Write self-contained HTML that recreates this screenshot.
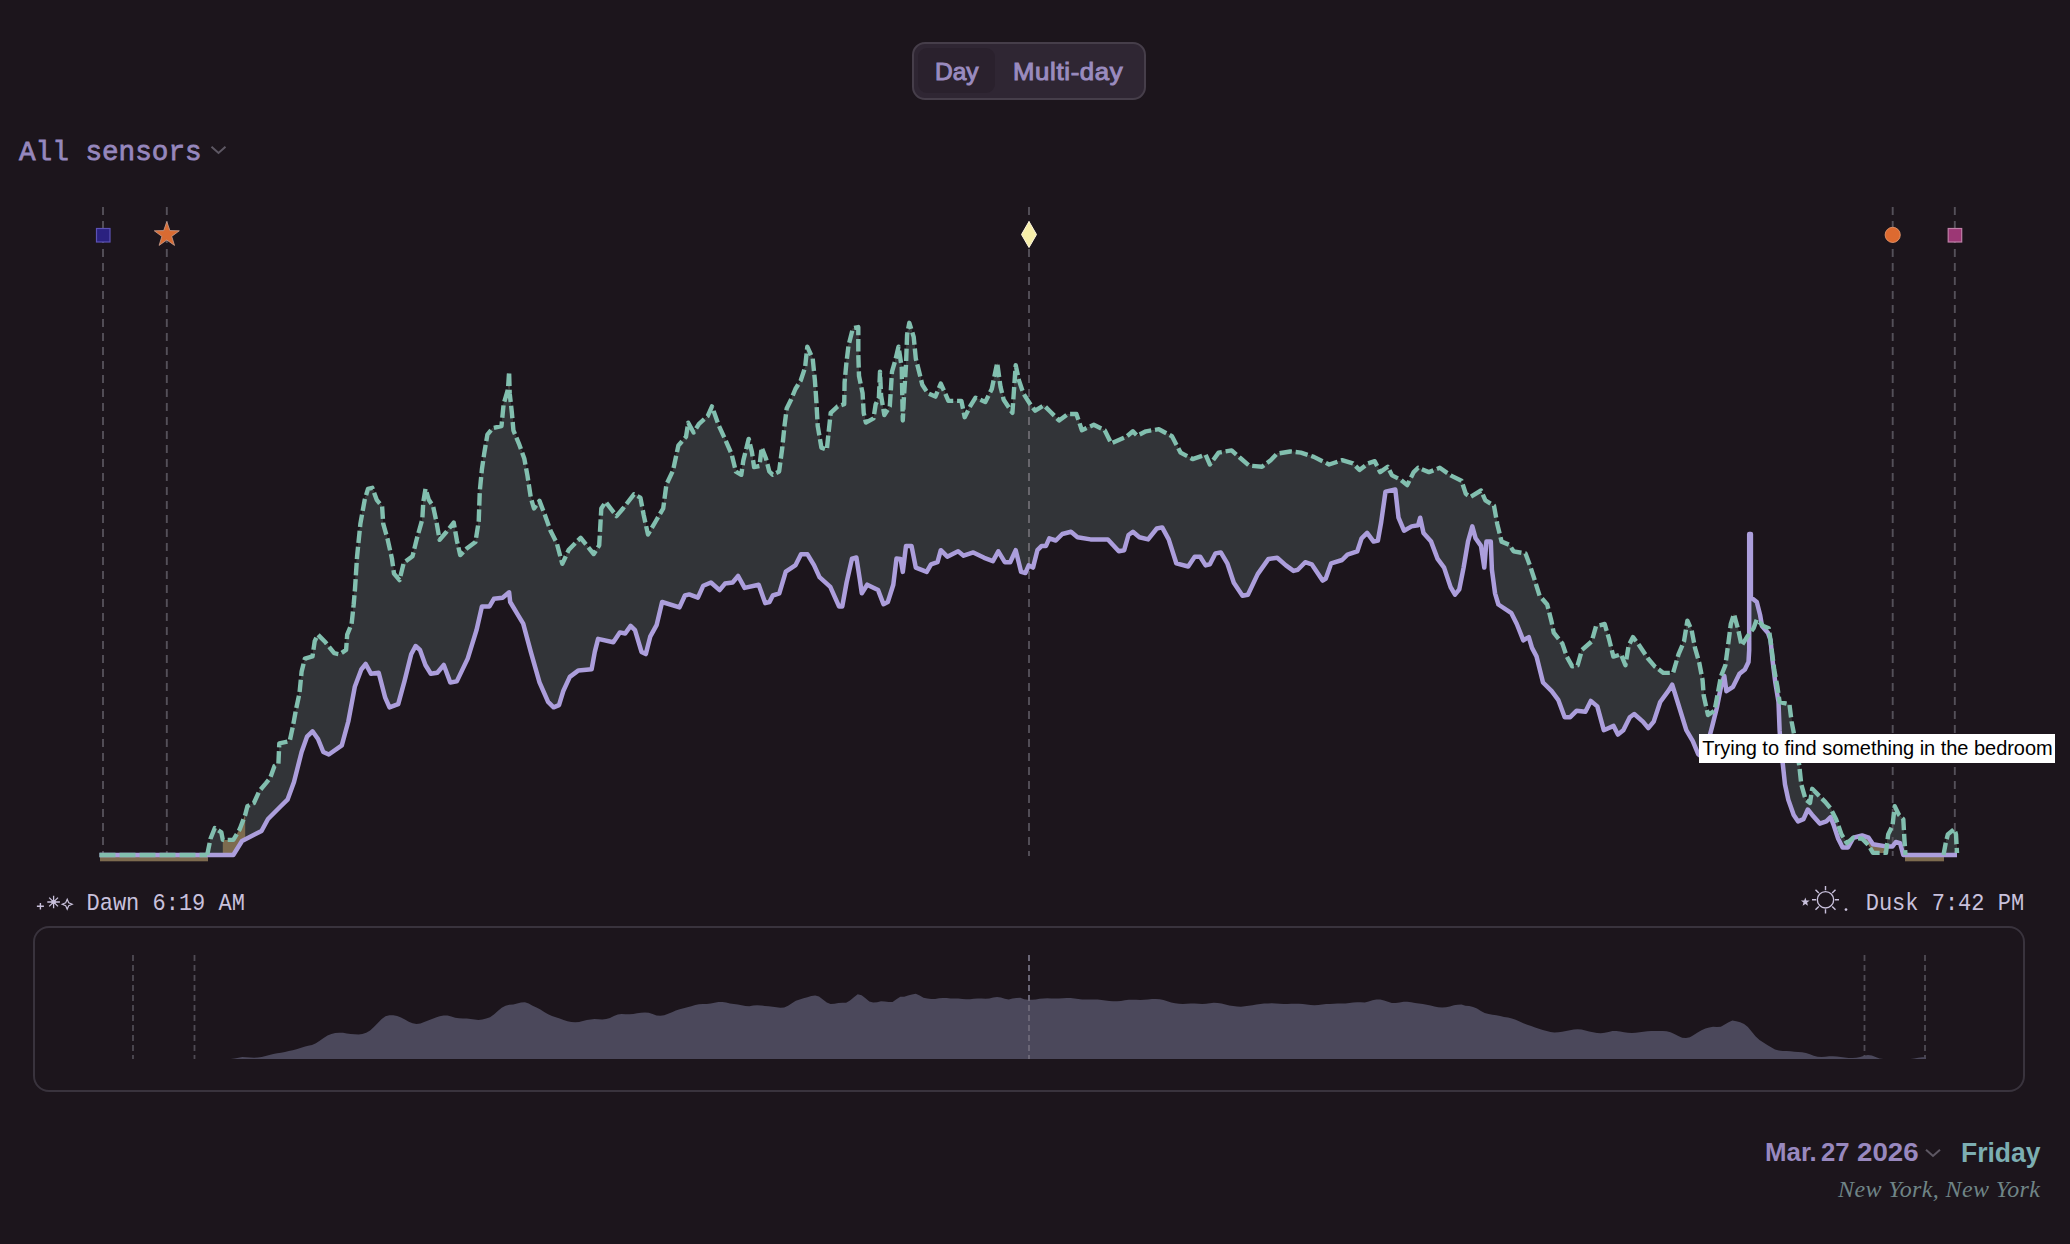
<!DOCTYPE html>
<html><head><meta charset="utf-8"><title>Sensors</title>
<style>
html,body{margin:0;padding:0}
body{width:2070px;height:1244px;background:#1c151c;position:relative;overflow:hidden;font-family:"Liberation Sans",sans-serif}
.abs{position:absolute;white-space:nowrap;line-height:1}
.toggle{left:912px;top:42px;width:230px;height:54px;border:2px solid #463e4a;border-radius:13px;background:#2f2633;box-sizing:content-box}
.day{left:4px;top:4px;width:77px;height:45px;border-radius:9px;background:#2a212d}
.tg{font-weight:normal;font-size:23px;color:#9a8bbf;-webkit-text-stroke:0.95px #9a8bbf}
.mono{font-family:"Liberation Mono",monospace}
.serif{font-family:"Liberation Serif",serif}
</style></head><body>
<div class="abs toggle"><div class="abs day"></div></div>
<div class="abs tg" id="t_day" style="left:934.5px;top:61.3px;transform-origin:0 0;transform:scaleX(1.065)">Day</div>
<div class="abs tg" id="t_multi" style="left:1013.2px;top:61.3px;letter-spacing:0.58px;transform-origin:0 0;transform:scaleX(1.12)">Multi-day</div>
<div class="abs mono" id="t_all" style="left:18.5px;top:138.5px;font-size:28px;font-weight:normal;color:#9687bd;-webkit-text-stroke:0.75px #9687bd;transform-origin:0 21.46px;transform:scale(0.988,1.02)">All sensors</div>
<svg class="abs" style="left:210px;top:145px" width="17" height="10" viewBox="0 0 17 10"><polyline points="1.5,1.8 8.5,8 15.5,1.8" fill="none" stroke="#5d5763" stroke-width="2"/></svg>
<svg width="2070" height="1244" viewBox="0 0 2070 1244" style="position:absolute;left:0;top:0"><defs><clipPath id="bg"><polygon points="99.5,855.0 207.2,855.0 210.5,838.8 214.8,828.0 221.3,832.3 222.8,839.9 233.3,839.9 239.8,829.0 245.2,814.9 247.4,806.2 253.9,803.0 259.3,791.0 265.8,783.4 270.2,778.0 274.5,766.0 278.4,763.9 279.3,743.3 289.7,741.1 293.0,725.9 296.2,708.5 299.5,693.3 301.6,671.6 304.9,658.6 312.5,656.4 314.7,641.2 317.9,634.7 325.5,642.3 334.2,653.2 339.6,654.3 346.1,649.9 347.2,634.7 351.6,623.9 353.7,604.3 355.0,588.8 357.1,556.2 360.4,523.6 364.7,499.8 368.0,488.9 372.3,487.8 376.7,499.8 382.1,506.3 383.2,523.6 387.5,538.8 391.9,558.4 394.0,573.6 399.5,580.1 403.8,562.7 412.5,556.2 416.8,538.8 422.3,519.3 423.3,502.0 425.5,488.9 428.8,499.8 433.1,506.3 436.4,521.5 439.6,539.9 446.1,532.3 453.7,522.6 457.0,541.0 460.2,555.1 466.7,548.6 475.4,542.1 478.7,521.5 479.8,491.1 481.9,469.4 484.1,454.2 487.4,434.7 492.8,428.1 501.5,426.0 503.6,404.3 508.0,389.1 509.1,371.7 509.7,393.4 511.9,412.9 513.4,430.3 518.8,443.3 524.3,458.5 527.5,475.9 530.8,497.6 534.0,508.5 539.5,500.9 544.9,515.0 550.3,530.2 556.8,543.2 562.3,563.8 568.8,549.7 580.7,537.8 593.7,554.0 599.2,545.4 601.3,508.5 605.7,501.9 616.5,516.1 623.0,508.5 633.9,494.3 640.4,497.6 643.7,515.0 648.0,534.5 655.6,521.5 663.2,508.5 666.4,484.6 673.0,470.5 678.4,445.5 686.0,436.8 688.2,422.7 693.6,432.5 699.0,423.8 707.7,416.2 712.0,406.4 718.5,424.9 725.0,439.0 731.6,454.2 735.9,471.6 741.3,474.8 743.3,460.6 748.7,438.9 751.9,451.9 754.1,467.1 759.5,466.0 761.7,447.6 766.0,458.5 769.3,471.5 772.6,474.7 779.1,471.5 782.3,447.6 784.5,425.9 786.7,408.5 791.0,399.8 795.4,389.0 800.8,380.3 805.1,367.3 807.3,346.7 812.7,358.6 814.9,380.3 816.4,402.0 817.7,425.9 821.4,447.6 826.8,449.8 828.6,432.4 830.7,412.9 837.7,406.4 844.2,404.2 844.6,382.5 846.4,362.9 848.5,345.6 852.9,328.2 858.3,327.1 858.3,354.3 859.0,376.0 862.6,393.3 863.7,412.9 865.9,422.6 873.5,418.3 875.7,404.2 878.9,397.7 880.0,371.6 881.1,395.5 884.3,415.0 889.8,406.4 892.0,371.6 895.2,360.8 898.5,346.7 901.7,367.3 902.8,420.5 903.9,397.7 906.0,365.1 907.1,334.7 909.3,322.8 913.7,336.9 915.8,358.6 919.1,371.6 922.3,384.7 927.8,393.3 935.4,396.6 940.8,383.6 945.1,393.3 948.4,400.9 961.4,400.9 964.7,417.2 970.1,406.4 975.5,397.7 985.3,402.0 991.8,389.0 997.2,362.9 1000.5,386.8 1003.7,399.8 1012.4,412.9 1015.7,365.1 1018.9,380.3 1023.3,393.3 1030.9,405.3 1035.2,410.7 1043.9,405.3 1050.4,411.8 1059.1,420.5 1067.8,414.0 1076.4,414.0 1081.9,430.2 1093.8,424.8 1104.7,430.2 1111.2,443.3 1126.4,436.7 1132.9,431.3 1137.2,435.7 1145.9,431.3 1158.9,429.2 1172.0,436.3 1180.6,452.6 1192.6,459.1 1205.6,454.7 1209.9,464.5 1218.6,452.6 1231.6,450.4 1240.3,458.0 1249.0,465.6 1262.0,466.7 1270.7,460.2 1277.2,453.6 1290.2,451.5 1300.9,452.6 1313.9,456.9 1329.1,464.5 1342.1,460.2 1352.9,463.4 1359.5,469.9 1368.1,463.4 1374.7,461.2 1380.1,472.1 1387.7,466.7 1392.0,475.4 1400.7,479.7 1407.2,485.1 1413.7,472.1 1418.1,467.8 1428.9,472.1 1439.8,467.8 1450.6,475.4 1461.5,480.8 1465.8,493.8 1470.2,497.1 1481.0,490.5 1485.4,500.3 1494.0,505.7 1497.3,524.2 1501.6,541.6 1509.2,544.8 1513.6,551.3 1525.5,553.5 1529.9,565.4 1534.2,578.5 1539.6,595.8 1547.2,604.5 1551.6,621.9 1553.7,632.7 1562.4,643.6 1566.8,656.6 1572.2,666.4 1577.6,665.3 1581.9,650.1 1591.7,641.4 1596.0,626.2 1604.7,624.0 1609.1,639.2 1613.4,656.6 1621.0,654.4 1625.4,665.3 1628.6,645.7 1633.0,637.1 1639.5,645.7 1648.2,658.8 1654.7,666.4 1663.4,672.9 1673.1,672.9 1678.5,654.4 1684.0,641.4 1687.4,620.6 1691.7,630.4 1695.0,647.8 1699.3,663.0 1702.6,680.3 1703.7,695.5 1708.0,715.0 1714.5,710.7 1717.8,693.3 1721.0,676.0 1725.4,665.1 1728.6,641.2 1730.8,623.9 1734.0,614.1 1738.4,630.4 1741.6,645.6 1744.0,641.3 1744.5,640.5 1745.0,639.7 1745.5,638.9 1746.0,638.1 1746.5,637.3 1747.0,636.6 1747.5,635.9 1748.0,635.2 1748.5,634.5 1749.0,633.9 1749.5,533.5 1750.0,533.5 1750.5,533.5 1751.0,597.5 1751.5,597.8 1752.0,598.0 1752.5,598.3 1753.0,598.5 1753.5,598.9 1754.0,599.3 1754.5,599.7 1755.0,600.1 1755.5,600.5 1756.0,600.9 1756.5,601.3 1757.0,602.3 1757.5,604.3 1758.0,606.2 1758.5,608.2 1759.0,610.2 1759.5,612.1 1760.0,614.1 1760.5,616.8 1761.0,619.7 1761.5,622.6 1762.0,624.2 1762.5,624.7 1763.0,625.2 1763.5,625.6 1764.0,625.8 1764.5,626.0 1765.0,626.2 1765.5,626.4 1766.0,626.6 1766.5,626.8 1767.0,627.0 1767.5,627.2 1768.0,627.4 1768.5,627.6 1769.0,629.1 1769.5,632.8 1770.0,636.4 1770.5,639.5 1771.0,643.7 1771.5,647.6 1772.0,651.6 1772.5,655.6 1773.0,659.5 1773.5,663.5 1774.0,667.4 1774.5,670.6 1775.0,673.3 1775.5,676.0 1776.0,678.7 1776.5,681.4 1777.0,684.1 1777.5,687.0 1778.0,690.4 1779.6,702.0 1789.4,704.2 1791.6,721.6 1793.7,732.4 1796.5,750.0 1799.2,765.0 1801.3,784.5 1805.7,799.7 1810.0,802.9 1812.2,788.8 1818.7,795.4 1825.2,801.9 1830.6,808.4 1836.1,819.2 1841.5,834.4 1846.9,843.1 1853.4,837.7 1862.1,838.8 1868.6,845.3 1873.0,852.9 1886.0,852.9 1888.2,834.4 1892.5,825.7 1894.7,806.2 1899.0,814.9 1903.3,819.2 1904.4,838.8 1905.5,855.0 1943.5,855.0 1945.7,843.1 1947.8,834.4 1954.3,829.0 1956.0,834.4 1957.0,853.0 1957.0,200.0 99.5,200.0"/></clipPath><clipPath id="btw"><polygon points="99.5,855.0 207.2,855.0 210.5,838.8 214.8,828.0 221.3,832.3 222.8,839.9 233.3,839.9 239.8,829.0 245.2,814.9 247.4,806.2 253.9,803.0 259.3,791.0 265.8,783.4 270.2,778.0 274.5,766.0 278.4,763.9 279.3,743.3 289.7,741.1 293.0,725.9 296.2,708.5 299.5,693.3 301.6,671.6 304.9,658.6 312.5,656.4 314.7,641.2 317.9,634.7 325.5,642.3 334.2,653.2 339.6,654.3 346.1,649.9 347.2,634.7 351.6,623.9 353.7,604.3 355.0,588.8 357.1,556.2 360.4,523.6 364.7,499.8 368.0,488.9 372.3,487.8 376.7,499.8 382.1,506.3 383.2,523.6 387.5,538.8 391.9,558.4 394.0,573.6 399.5,580.1 403.8,562.7 412.5,556.2 416.8,538.8 422.3,519.3 423.3,502.0 425.5,488.9 428.8,499.8 433.1,506.3 436.4,521.5 439.6,539.9 446.1,532.3 453.7,522.6 457.0,541.0 460.2,555.1 466.7,548.6 475.4,542.1 478.7,521.5 479.8,491.1 481.9,469.4 484.1,454.2 487.4,434.7 492.8,428.1 501.5,426.0 503.6,404.3 508.0,389.1 509.1,371.7 509.7,393.4 511.9,412.9 513.4,430.3 518.8,443.3 524.3,458.5 527.5,475.9 530.8,497.6 534.0,508.5 539.5,500.9 544.9,515.0 550.3,530.2 556.8,543.2 562.3,563.8 568.8,549.7 580.7,537.8 593.7,554.0 599.2,545.4 601.3,508.5 605.7,501.9 616.5,516.1 623.0,508.5 633.9,494.3 640.4,497.6 643.7,515.0 648.0,534.5 655.6,521.5 663.2,508.5 666.4,484.6 673.0,470.5 678.4,445.5 686.0,436.8 688.2,422.7 693.6,432.5 699.0,423.8 707.7,416.2 712.0,406.4 718.5,424.9 725.0,439.0 731.6,454.2 735.9,471.6 741.3,474.8 743.3,460.6 748.7,438.9 751.9,451.9 754.1,467.1 759.5,466.0 761.7,447.6 766.0,458.5 769.3,471.5 772.6,474.7 779.1,471.5 782.3,447.6 784.5,425.9 786.7,408.5 791.0,399.8 795.4,389.0 800.8,380.3 805.1,367.3 807.3,346.7 812.7,358.6 814.9,380.3 816.4,402.0 817.7,425.9 821.4,447.6 826.8,449.8 828.6,432.4 830.7,412.9 837.7,406.4 844.2,404.2 844.6,382.5 846.4,362.9 848.5,345.6 852.9,328.2 858.3,327.1 858.3,354.3 859.0,376.0 862.6,393.3 863.7,412.9 865.9,422.6 873.5,418.3 875.7,404.2 878.9,397.7 880.0,371.6 881.1,395.5 884.3,415.0 889.8,406.4 892.0,371.6 895.2,360.8 898.5,346.7 901.7,367.3 902.8,420.5 903.9,397.7 906.0,365.1 907.1,334.7 909.3,322.8 913.7,336.9 915.8,358.6 919.1,371.6 922.3,384.7 927.8,393.3 935.4,396.6 940.8,383.6 945.1,393.3 948.4,400.9 961.4,400.9 964.7,417.2 970.1,406.4 975.5,397.7 985.3,402.0 991.8,389.0 997.2,362.9 1000.5,386.8 1003.7,399.8 1012.4,412.9 1015.7,365.1 1018.9,380.3 1023.3,393.3 1030.9,405.3 1035.2,410.7 1043.9,405.3 1050.4,411.8 1059.1,420.5 1067.8,414.0 1076.4,414.0 1081.9,430.2 1093.8,424.8 1104.7,430.2 1111.2,443.3 1126.4,436.7 1132.9,431.3 1137.2,435.7 1145.9,431.3 1158.9,429.2 1172.0,436.3 1180.6,452.6 1192.6,459.1 1205.6,454.7 1209.9,464.5 1218.6,452.6 1231.6,450.4 1240.3,458.0 1249.0,465.6 1262.0,466.7 1270.7,460.2 1277.2,453.6 1290.2,451.5 1300.9,452.6 1313.9,456.9 1329.1,464.5 1342.1,460.2 1352.9,463.4 1359.5,469.9 1368.1,463.4 1374.7,461.2 1380.1,472.1 1387.7,466.7 1392.0,475.4 1400.7,479.7 1407.2,485.1 1413.7,472.1 1418.1,467.8 1428.9,472.1 1439.8,467.8 1450.6,475.4 1461.5,480.8 1465.8,493.8 1470.2,497.1 1481.0,490.5 1485.4,500.3 1494.0,505.7 1497.3,524.2 1501.6,541.6 1509.2,544.8 1513.6,551.3 1525.5,553.5 1529.9,565.4 1534.2,578.5 1539.6,595.8 1547.2,604.5 1551.6,621.9 1553.7,632.7 1562.4,643.6 1566.8,656.6 1572.2,666.4 1577.6,665.3 1581.9,650.1 1591.7,641.4 1596.0,626.2 1604.7,624.0 1609.1,639.2 1613.4,656.6 1621.0,654.4 1625.4,665.3 1628.6,645.7 1633.0,637.1 1639.5,645.7 1648.2,658.8 1654.7,666.4 1663.4,672.9 1673.1,672.9 1678.5,654.4 1684.0,641.4 1687.4,620.6 1691.7,630.4 1695.0,647.8 1699.3,663.0 1702.6,680.3 1703.7,695.5 1708.0,715.0 1714.5,710.7 1717.8,693.3 1721.0,676.0 1725.4,665.1 1728.6,641.2 1730.8,623.9 1734.0,614.1 1738.4,630.4 1741.6,645.6 1747.1,636.9 1753.6,628.2 1756.8,619.5 1763.3,626.0 1768.8,628.2 1770.9,643.4 1774.2,669.5 1777.4,686.8 1779.6,702.0 1789.4,704.2 1791.6,721.6 1793.7,732.4 1796.5,750.0 1799.2,765.0 1801.3,784.5 1805.7,799.7 1810.0,802.9 1812.2,788.8 1818.7,795.4 1825.2,801.9 1830.6,808.4 1836.1,819.2 1841.5,834.4 1846.9,843.1 1853.4,837.7 1862.1,838.8 1868.6,845.3 1873.0,852.9 1886.0,852.9 1888.2,834.4 1892.5,825.7 1894.7,806.2 1899.0,814.9 1903.3,819.2 1904.4,838.8 1905.5,855.0 1943.5,855.0 1945.7,843.1 1947.8,834.4 1954.3,829.0 1956.0,834.4 1957.0,853.0 1957.0,855.0 1903.3,855.0 1900.1,843.1 1895.8,842.0 1892.5,846.4 1886.0,846.4 1873.0,844.2 1868.6,837.7 1862.1,835.5 1853.4,837.7 1848.0,847.4 1842.6,847.4 1838.2,838.8 1833.9,825.7 1830.6,817.1 1826.3,821.4 1819.8,823.6 1812.2,814.9 1807.8,809.5 1803.5,819.2 1798.1,821.4 1793.7,814.9 1788.3,799.7 1785.0,784.5 1782.9,765.0 1781.0,750.0 1779.6,730.2 1778.5,702.0 1775.3,682.5 1772.5,660.0 1770.5,640.0 1768.0,633.0 1762.0,626.0 1760.1,615.0 1756.8,602.0 1753.0,599.0 1750.9,598.0 1750.9,534.0 1749.2,534.0 1749.2,650.0 1748.5,662.0 1744.9,669.5 1739.5,673.8 1733.0,686.8 1726.4,691.2 1724.3,676.0 1721.0,686.8 1716.7,708.5 1712.3,725.9 1706.0,750.0 1702.0,757.0 1698.2,754.1 1692.8,741.1 1686.3,730.2 1677.6,702.0 1672.2,684.7 1668.9,690.1 1660.2,702.0 1653.7,721.6 1648.3,728.1 1642.9,721.6 1634.2,714.0 1629.8,717.2 1623.3,730.2 1617.9,734.6 1613.6,725.9 1603.8,730.2 1597.3,706.4 1590.8,700.9 1585.4,711.8 1576.7,710.7 1570.2,717.2 1564.7,717.2 1558.2,699.8 1551.7,691.2 1543.0,682.5 1536.5,656.4 1532.0,647.9 1528.8,637.1 1523.3,640.3 1516.8,624.0 1511.4,613.2 1498.4,604.5 1495.1,593.6 1491.9,569.8 1490.8,541.6 1486.4,541.6 1484.3,567.6 1481.0,545.9 1475.6,538.3 1472.3,526.4 1468.0,541.6 1463.6,567.6 1459.3,589.3 1455.0,594.7 1450.6,587.1 1444.1,567.6 1437.6,558.9 1431.1,541.6 1423.5,532.9 1420.2,517.7 1418.1,525.3 1411.6,526.4 1404.0,530.7 1398.5,517.7 1395.3,489.5 1385.5,491.6 1381.2,522.0 1377.9,540.5 1373.6,541.6 1367.1,532.9 1361.6,538.3 1357.3,551.3 1347.5,554.6 1342.1,560.0 1331.2,563.3 1325.8,578.5 1322.6,580.6 1311.7,564.3 1305.2,562.2 1297.8,569.8 1293.5,570.9 1285.9,565.4 1277.2,557.8 1268.5,558.9 1257.7,574.1 1247.9,594.7 1242.5,595.8 1233.8,582.8 1227.3,563.3 1220.8,552.4 1215.4,553.5 1209.9,564.3 1205.6,565.4 1200.2,556.7 1194.7,556.7 1188.2,566.5 1176.3,563.3 1168.7,539.4 1162.2,527.4 1156.8,528.5 1148.1,539.4 1139.4,537.2 1132.9,531.8 1128.5,535.0 1124.2,550.2 1118.8,551.3 1107.9,539.4 1090.5,539.4 1077.5,537.2 1071.0,531.8 1062.3,534.0 1055.8,540.5 1049.3,538.3 1046.0,545.9 1041.7,545.9 1037.4,550.2 1033.0,567.6 1028.7,565.4 1025.4,573.0 1021.1,571.9 1015.7,550.2 1010.2,562.2 1004.8,562.2 998.3,551.3 992.9,561.1 984.2,557.8 973.3,552.4 963.6,555.7 958.1,551.3 947.3,556.7 940.8,550.2 937.5,562.2 931.0,564.3 926.7,571.9 915.8,567.6 911.5,545.9 906.0,545.9 902.8,571.9 900.6,558.9 896.5,558.6 893.3,584.7 887.8,602.0 883.5,604.2 878.1,590.1 867.2,584.7 861.8,593.3 859.6,578.1 856.4,557.5 852.0,558.6 846.6,582.5 842.3,606.4 839.0,606.4 830.3,586.8 819.5,577.1 814.0,565.1 807.5,554.3 801.0,554.3 795.6,565.1 785.8,571.6 779.3,593.3 772.8,595.5 769.5,602.0 765.2,603.1 758.7,584.7 744.6,587.9 738.1,576.0 732.6,582.5 725.0,583.6 719.6,590.1 710.9,582.5 703.3,585.7 697.9,597.7 689.2,594.4 684.9,595.5 679.5,607.4 662.1,602.0 656.7,624.8 650.2,636.7 645.8,654.1 641.5,651.9 635.0,630.2 630.6,625.9 625.2,633.5 619.8,632.4 613.3,642.2 598.1,638.9 594.8,651.9 591.6,669.3 578.5,670.4 569.8,676.9 563.3,691.0 559.0,705.1 553.6,707.3 548.1,701.9 539.5,682.3 530.8,651.9 523.2,623.7 516.7,612.9 510.2,602.0 509.1,592.3 502.6,597.7 493.9,598.8 489.5,606.4 481.9,606.4 476.5,630.2 467.7,658.6 456.8,681.4 450.3,682.5 443.8,665.0 437.3,672.7 430.8,673.8 425.4,665.0 420.0,650.0 415.6,646.0 411.2,654.3 404.7,680.3 398.2,704.2 389.5,707.4 385.2,697.7 378.7,672.7 371.0,673.8 365.7,664.0 361.3,669.5 354.8,686.8 348.3,721.5 341.8,745.4 328.8,754.5 323.3,752.0 318.0,739.0 312.5,731.3 307.0,736.7 301.6,752.0 294.0,782.0 287.5,799.7 281.0,806.0 268.0,819.0 261.5,831.0 242.0,841.0 233.3,855.0 99.5,855.0"/></clipPath></defs><polygon points="99.5,855.0 207.2,855.0 210.5,838.8 214.8,828.0 221.3,832.3 222.8,839.9 233.3,839.9 239.8,829.0 245.2,814.9 247.4,806.2 253.9,803.0 259.3,791.0 265.8,783.4 270.2,778.0 274.5,766.0 278.4,763.9 279.3,743.3 289.7,741.1 293.0,725.9 296.2,708.5 299.5,693.3 301.6,671.6 304.9,658.6 312.5,656.4 314.7,641.2 317.9,634.7 325.5,642.3 334.2,653.2 339.6,654.3 346.1,649.9 347.2,634.7 351.6,623.9 353.7,604.3 355.0,588.8 357.1,556.2 360.4,523.6 364.7,499.8 368.0,488.9 372.3,487.8 376.7,499.8 382.1,506.3 383.2,523.6 387.5,538.8 391.9,558.4 394.0,573.6 399.5,580.1 403.8,562.7 412.5,556.2 416.8,538.8 422.3,519.3 423.3,502.0 425.5,488.9 428.8,499.8 433.1,506.3 436.4,521.5 439.6,539.9 446.1,532.3 453.7,522.6 457.0,541.0 460.2,555.1 466.7,548.6 475.4,542.1 478.7,521.5 479.8,491.1 481.9,469.4 484.1,454.2 487.4,434.7 492.8,428.1 501.5,426.0 503.6,404.3 508.0,389.1 509.1,371.7 509.7,393.4 511.9,412.9 513.4,430.3 518.8,443.3 524.3,458.5 527.5,475.9 530.8,497.6 534.0,508.5 539.5,500.9 544.9,515.0 550.3,530.2 556.8,543.2 562.3,563.8 568.8,549.7 580.7,537.8 593.7,554.0 599.2,545.4 601.3,508.5 605.7,501.9 616.5,516.1 623.0,508.5 633.9,494.3 640.4,497.6 643.7,515.0 648.0,534.5 655.6,521.5 663.2,508.5 666.4,484.6 673.0,470.5 678.4,445.5 686.0,436.8 688.2,422.7 693.6,432.5 699.0,423.8 707.7,416.2 712.0,406.4 718.5,424.9 725.0,439.0 731.6,454.2 735.9,471.6 741.3,474.8 743.3,460.6 748.7,438.9 751.9,451.9 754.1,467.1 759.5,466.0 761.7,447.6 766.0,458.5 769.3,471.5 772.6,474.7 779.1,471.5 782.3,447.6 784.5,425.9 786.7,408.5 791.0,399.8 795.4,389.0 800.8,380.3 805.1,367.3 807.3,346.7 812.7,358.6 814.9,380.3 816.4,402.0 817.7,425.9 821.4,447.6 826.8,449.8 828.6,432.4 830.7,412.9 837.7,406.4 844.2,404.2 844.6,382.5 846.4,362.9 848.5,345.6 852.9,328.2 858.3,327.1 858.3,354.3 859.0,376.0 862.6,393.3 863.7,412.9 865.9,422.6 873.5,418.3 875.7,404.2 878.9,397.7 880.0,371.6 881.1,395.5 884.3,415.0 889.8,406.4 892.0,371.6 895.2,360.8 898.5,346.7 901.7,367.3 902.8,420.5 903.9,397.7 906.0,365.1 907.1,334.7 909.3,322.8 913.7,336.9 915.8,358.6 919.1,371.6 922.3,384.7 927.8,393.3 935.4,396.6 940.8,383.6 945.1,393.3 948.4,400.9 961.4,400.9 964.7,417.2 970.1,406.4 975.5,397.7 985.3,402.0 991.8,389.0 997.2,362.9 1000.5,386.8 1003.7,399.8 1012.4,412.9 1015.7,365.1 1018.9,380.3 1023.3,393.3 1030.9,405.3 1035.2,410.7 1043.9,405.3 1050.4,411.8 1059.1,420.5 1067.8,414.0 1076.4,414.0 1081.9,430.2 1093.8,424.8 1104.7,430.2 1111.2,443.3 1126.4,436.7 1132.9,431.3 1137.2,435.7 1145.9,431.3 1158.9,429.2 1172.0,436.3 1180.6,452.6 1192.6,459.1 1205.6,454.7 1209.9,464.5 1218.6,452.6 1231.6,450.4 1240.3,458.0 1249.0,465.6 1262.0,466.7 1270.7,460.2 1277.2,453.6 1290.2,451.5 1300.9,452.6 1313.9,456.9 1329.1,464.5 1342.1,460.2 1352.9,463.4 1359.5,469.9 1368.1,463.4 1374.7,461.2 1380.1,472.1 1387.7,466.7 1392.0,475.4 1400.7,479.7 1407.2,485.1 1413.7,472.1 1418.1,467.8 1428.9,472.1 1439.8,467.8 1450.6,475.4 1461.5,480.8 1465.8,493.8 1470.2,497.1 1481.0,490.5 1485.4,500.3 1494.0,505.7 1497.3,524.2 1501.6,541.6 1509.2,544.8 1513.6,551.3 1525.5,553.5 1529.9,565.4 1534.2,578.5 1539.6,595.8 1547.2,604.5 1551.6,621.9 1553.7,632.7 1562.4,643.6 1566.8,656.6 1572.2,666.4 1577.6,665.3 1581.9,650.1 1591.7,641.4 1596.0,626.2 1604.7,624.0 1609.1,639.2 1613.4,656.6 1621.0,654.4 1625.4,665.3 1628.6,645.7 1633.0,637.1 1639.5,645.7 1648.2,658.8 1654.7,666.4 1663.4,672.9 1673.1,672.9 1678.5,654.4 1684.0,641.4 1687.4,620.6 1691.7,630.4 1695.0,647.8 1699.3,663.0 1702.6,680.3 1703.7,695.5 1708.0,715.0 1714.5,710.7 1717.8,693.3 1721.0,676.0 1725.4,665.1 1728.6,641.2 1730.8,623.9 1734.0,614.1 1738.4,630.4 1741.6,645.6 1747.1,636.9 1753.6,628.2 1756.8,619.5 1763.3,626.0 1768.8,628.2 1770.9,643.4 1774.2,669.5 1777.4,686.8 1779.6,702.0 1789.4,704.2 1791.6,721.6 1793.7,732.4 1796.5,750.0 1799.2,765.0 1801.3,784.5 1805.7,799.7 1810.0,802.9 1812.2,788.8 1818.7,795.4 1825.2,801.9 1830.6,808.4 1836.1,819.2 1841.5,834.4 1846.9,843.1 1853.4,837.7 1862.1,838.8 1868.6,845.3 1873.0,852.9 1886.0,852.9 1888.2,834.4 1892.5,825.7 1894.7,806.2 1899.0,814.9 1903.3,819.2 1904.4,838.8 1905.5,855.0 1943.5,855.0 1945.7,843.1 1947.8,834.4 1954.3,829.0 1956.0,834.4 1957.0,853.0 1957.0,855.0 1903.3,855.0 1900.1,843.1 1895.8,842.0 1892.5,846.4 1886.0,846.4 1873.0,844.2 1868.6,837.7 1862.1,835.5 1853.4,837.7 1848.0,847.4 1842.6,847.4 1838.2,838.8 1833.9,825.7 1830.6,817.1 1826.3,821.4 1819.8,823.6 1812.2,814.9 1807.8,809.5 1803.5,819.2 1798.1,821.4 1793.7,814.9 1788.3,799.7 1785.0,784.5 1782.9,765.0 1781.0,750.0 1779.6,730.2 1778.5,702.0 1775.3,682.5 1772.5,660.0 1770.5,640.0 1768.0,633.0 1762.0,626.0 1760.1,615.0 1756.8,602.0 1753.0,599.0 1750.9,598.0 1750.9,534.0 1749.2,534.0 1749.2,650.0 1748.5,662.0 1744.9,669.5 1739.5,673.8 1733.0,686.8 1726.4,691.2 1724.3,676.0 1721.0,686.8 1716.7,708.5 1712.3,725.9 1706.0,750.0 1702.0,757.0 1698.2,754.1 1692.8,741.1 1686.3,730.2 1677.6,702.0 1672.2,684.7 1668.9,690.1 1660.2,702.0 1653.7,721.6 1648.3,728.1 1642.9,721.6 1634.2,714.0 1629.8,717.2 1623.3,730.2 1617.9,734.6 1613.6,725.9 1603.8,730.2 1597.3,706.4 1590.8,700.9 1585.4,711.8 1576.7,710.7 1570.2,717.2 1564.7,717.2 1558.2,699.8 1551.7,691.2 1543.0,682.5 1536.5,656.4 1532.0,647.9 1528.8,637.1 1523.3,640.3 1516.8,624.0 1511.4,613.2 1498.4,604.5 1495.1,593.6 1491.9,569.8 1490.8,541.6 1486.4,541.6 1484.3,567.6 1481.0,545.9 1475.6,538.3 1472.3,526.4 1468.0,541.6 1463.6,567.6 1459.3,589.3 1455.0,594.7 1450.6,587.1 1444.1,567.6 1437.6,558.9 1431.1,541.6 1423.5,532.9 1420.2,517.7 1418.1,525.3 1411.6,526.4 1404.0,530.7 1398.5,517.7 1395.3,489.5 1385.5,491.6 1381.2,522.0 1377.9,540.5 1373.6,541.6 1367.1,532.9 1361.6,538.3 1357.3,551.3 1347.5,554.6 1342.1,560.0 1331.2,563.3 1325.8,578.5 1322.6,580.6 1311.7,564.3 1305.2,562.2 1297.8,569.8 1293.5,570.9 1285.9,565.4 1277.2,557.8 1268.5,558.9 1257.7,574.1 1247.9,594.7 1242.5,595.8 1233.8,582.8 1227.3,563.3 1220.8,552.4 1215.4,553.5 1209.9,564.3 1205.6,565.4 1200.2,556.7 1194.7,556.7 1188.2,566.5 1176.3,563.3 1168.7,539.4 1162.2,527.4 1156.8,528.5 1148.1,539.4 1139.4,537.2 1132.9,531.8 1128.5,535.0 1124.2,550.2 1118.8,551.3 1107.9,539.4 1090.5,539.4 1077.5,537.2 1071.0,531.8 1062.3,534.0 1055.8,540.5 1049.3,538.3 1046.0,545.9 1041.7,545.9 1037.4,550.2 1033.0,567.6 1028.7,565.4 1025.4,573.0 1021.1,571.9 1015.7,550.2 1010.2,562.2 1004.8,562.2 998.3,551.3 992.9,561.1 984.2,557.8 973.3,552.4 963.6,555.7 958.1,551.3 947.3,556.7 940.8,550.2 937.5,562.2 931.0,564.3 926.7,571.9 915.8,567.6 911.5,545.9 906.0,545.9 902.8,571.9 900.6,558.9 896.5,558.6 893.3,584.7 887.8,602.0 883.5,604.2 878.1,590.1 867.2,584.7 861.8,593.3 859.6,578.1 856.4,557.5 852.0,558.6 846.6,582.5 842.3,606.4 839.0,606.4 830.3,586.8 819.5,577.1 814.0,565.1 807.5,554.3 801.0,554.3 795.6,565.1 785.8,571.6 779.3,593.3 772.8,595.5 769.5,602.0 765.2,603.1 758.7,584.7 744.6,587.9 738.1,576.0 732.6,582.5 725.0,583.6 719.6,590.1 710.9,582.5 703.3,585.7 697.9,597.7 689.2,594.4 684.9,595.5 679.5,607.4 662.1,602.0 656.7,624.8 650.2,636.7 645.8,654.1 641.5,651.9 635.0,630.2 630.6,625.9 625.2,633.5 619.8,632.4 613.3,642.2 598.1,638.9 594.8,651.9 591.6,669.3 578.5,670.4 569.8,676.9 563.3,691.0 559.0,705.1 553.6,707.3 548.1,701.9 539.5,682.3 530.8,651.9 523.2,623.7 516.7,612.9 510.2,602.0 509.1,592.3 502.6,597.7 493.9,598.8 489.5,606.4 481.9,606.4 476.5,630.2 467.7,658.6 456.8,681.4 450.3,682.5 443.8,665.0 437.3,672.7 430.8,673.8 425.4,665.0 420.0,650.0 415.6,646.0 411.2,654.3 404.7,680.3 398.2,704.2 389.5,707.4 385.2,697.7 378.7,672.7 371.0,673.8 365.7,664.0 361.3,669.5 354.8,686.8 348.3,721.5 341.8,745.4 328.8,754.5 323.3,752.0 318.0,739.0 312.5,731.3 307.0,736.7 301.6,752.0 294.0,782.0 287.5,799.7 281.0,806.0 268.0,819.0 261.5,831.0 242.0,841.0 233.3,855.0 99.5,855.0" fill="#323438"/><polygon points="99.5,855.0 207.2,855.0 210.5,838.8 214.8,828.0 221.3,832.3 222.8,839.9 233.3,839.9 239.8,829.0 245.2,814.9 247.4,806.2 253.9,803.0 259.3,791.0 265.8,783.4 270.2,778.0 274.5,766.0 278.4,763.9 279.3,743.3 289.7,741.1 293.0,725.9 296.2,708.5 299.5,693.3 301.6,671.6 304.9,658.6 312.5,656.4 314.7,641.2 317.9,634.7 325.5,642.3 334.2,653.2 339.6,654.3 346.1,649.9 347.2,634.7 351.6,623.9 353.7,604.3 355.0,588.8 357.1,556.2 360.4,523.6 364.7,499.8 368.0,488.9 372.3,487.8 376.7,499.8 382.1,506.3 383.2,523.6 387.5,538.8 391.9,558.4 394.0,573.6 399.5,580.1 403.8,562.7 412.5,556.2 416.8,538.8 422.3,519.3 423.3,502.0 425.5,488.9 428.8,499.8 433.1,506.3 436.4,521.5 439.6,539.9 446.1,532.3 453.7,522.6 457.0,541.0 460.2,555.1 466.7,548.6 475.4,542.1 478.7,521.5 479.8,491.1 481.9,469.4 484.1,454.2 487.4,434.7 492.8,428.1 501.5,426.0 503.6,404.3 508.0,389.1 509.1,371.7 509.7,393.4 511.9,412.9 513.4,430.3 518.8,443.3 524.3,458.5 527.5,475.9 530.8,497.6 534.0,508.5 539.5,500.9 544.9,515.0 550.3,530.2 556.8,543.2 562.3,563.8 568.8,549.7 580.7,537.8 593.7,554.0 599.2,545.4 601.3,508.5 605.7,501.9 616.5,516.1 623.0,508.5 633.9,494.3 640.4,497.6 643.7,515.0 648.0,534.5 655.6,521.5 663.2,508.5 666.4,484.6 673.0,470.5 678.4,445.5 686.0,436.8 688.2,422.7 693.6,432.5 699.0,423.8 707.7,416.2 712.0,406.4 718.5,424.9 725.0,439.0 731.6,454.2 735.9,471.6 741.3,474.8 743.3,460.6 748.7,438.9 751.9,451.9 754.1,467.1 759.5,466.0 761.7,447.6 766.0,458.5 769.3,471.5 772.6,474.7 779.1,471.5 782.3,447.6 784.5,425.9 786.7,408.5 791.0,399.8 795.4,389.0 800.8,380.3 805.1,367.3 807.3,346.7 812.7,358.6 814.9,380.3 816.4,402.0 817.7,425.9 821.4,447.6 826.8,449.8 828.6,432.4 830.7,412.9 837.7,406.4 844.2,404.2 844.6,382.5 846.4,362.9 848.5,345.6 852.9,328.2 858.3,327.1 858.3,354.3 859.0,376.0 862.6,393.3 863.7,412.9 865.9,422.6 873.5,418.3 875.7,404.2 878.9,397.7 880.0,371.6 881.1,395.5 884.3,415.0 889.8,406.4 892.0,371.6 895.2,360.8 898.5,346.7 901.7,367.3 902.8,420.5 903.9,397.7 906.0,365.1 907.1,334.7 909.3,322.8 913.7,336.9 915.8,358.6 919.1,371.6 922.3,384.7 927.8,393.3 935.4,396.6 940.8,383.6 945.1,393.3 948.4,400.9 961.4,400.9 964.7,417.2 970.1,406.4 975.5,397.7 985.3,402.0 991.8,389.0 997.2,362.9 1000.5,386.8 1003.7,399.8 1012.4,412.9 1015.7,365.1 1018.9,380.3 1023.3,393.3 1030.9,405.3 1035.2,410.7 1043.9,405.3 1050.4,411.8 1059.1,420.5 1067.8,414.0 1076.4,414.0 1081.9,430.2 1093.8,424.8 1104.7,430.2 1111.2,443.3 1126.4,436.7 1132.9,431.3 1137.2,435.7 1145.9,431.3 1158.9,429.2 1172.0,436.3 1180.6,452.6 1192.6,459.1 1205.6,454.7 1209.9,464.5 1218.6,452.6 1231.6,450.4 1240.3,458.0 1249.0,465.6 1262.0,466.7 1270.7,460.2 1277.2,453.6 1290.2,451.5 1300.9,452.6 1313.9,456.9 1329.1,464.5 1342.1,460.2 1352.9,463.4 1359.5,469.9 1368.1,463.4 1374.7,461.2 1380.1,472.1 1387.7,466.7 1392.0,475.4 1400.7,479.7 1407.2,485.1 1413.7,472.1 1418.1,467.8 1428.9,472.1 1439.8,467.8 1450.6,475.4 1461.5,480.8 1465.8,493.8 1470.2,497.1 1481.0,490.5 1485.4,500.3 1494.0,505.7 1497.3,524.2 1501.6,541.6 1509.2,544.8 1513.6,551.3 1525.5,553.5 1529.9,565.4 1534.2,578.5 1539.6,595.8 1547.2,604.5 1551.6,621.9 1553.7,632.7 1562.4,643.6 1566.8,656.6 1572.2,666.4 1577.6,665.3 1581.9,650.1 1591.7,641.4 1596.0,626.2 1604.7,624.0 1609.1,639.2 1613.4,656.6 1621.0,654.4 1625.4,665.3 1628.6,645.7 1633.0,637.1 1639.5,645.7 1648.2,658.8 1654.7,666.4 1663.4,672.9 1673.1,672.9 1678.5,654.4 1684.0,641.4 1687.4,620.6 1691.7,630.4 1695.0,647.8 1699.3,663.0 1702.6,680.3 1703.7,695.5 1708.0,715.0 1714.5,710.7 1717.8,693.3 1721.0,676.0 1725.4,665.1 1728.6,641.2 1730.8,623.9 1734.0,614.1 1738.4,630.4 1741.6,645.6 1747.1,636.9 1753.6,628.2 1756.8,619.5 1763.3,626.0 1768.8,628.2 1770.9,643.4 1774.2,669.5 1777.4,686.8 1779.6,702.0 1789.4,704.2 1791.6,721.6 1793.7,732.4 1796.5,750.0 1799.2,765.0 1801.3,784.5 1805.7,799.7 1810.0,802.9 1812.2,788.8 1818.7,795.4 1825.2,801.9 1830.6,808.4 1836.1,819.2 1841.5,834.4 1846.9,843.1 1853.4,837.7 1862.1,838.8 1868.6,845.3 1873.0,852.9 1886.0,852.9 1888.2,834.4 1892.5,825.7 1894.7,806.2 1899.0,814.9 1903.3,819.2 1904.4,838.8 1905.5,855.0 1943.5,855.0 1945.7,843.1 1947.8,834.4 1954.3,829.0 1956.0,834.4 1957.0,853.0 1957.0,855.0 1903.3,855.0 1900.1,843.1 1895.8,842.0 1892.5,846.4 1886.0,846.4 1873.0,844.2 1868.6,837.7 1862.1,835.5 1853.4,837.7 1848.0,847.4 1842.6,847.4 1838.2,838.8 1833.9,825.7 1830.6,817.1 1826.3,821.4 1819.8,823.6 1812.2,814.9 1807.8,809.5 1803.5,819.2 1798.1,821.4 1793.7,814.9 1788.3,799.7 1785.0,784.5 1782.9,765.0 1781.0,750.0 1779.6,730.2 1778.5,702.0 1775.3,682.5 1772.5,660.0 1770.5,640.0 1768.0,633.0 1762.0,626.0 1760.1,615.0 1756.8,602.0 1753.0,599.0 1750.9,598.0 1750.9,534.0 1749.2,534.0 1749.2,650.0 1748.5,662.0 1744.9,669.5 1739.5,673.8 1733.0,686.8 1726.4,691.2 1724.3,676.0 1721.0,686.8 1716.7,708.5 1712.3,725.9 1706.0,750.0 1702.0,757.0 1698.2,754.1 1692.8,741.1 1686.3,730.2 1677.6,702.0 1672.2,684.7 1668.9,690.1 1660.2,702.0 1653.7,721.6 1648.3,728.1 1642.9,721.6 1634.2,714.0 1629.8,717.2 1623.3,730.2 1617.9,734.6 1613.6,725.9 1603.8,730.2 1597.3,706.4 1590.8,700.9 1585.4,711.8 1576.7,710.7 1570.2,717.2 1564.7,717.2 1558.2,699.8 1551.7,691.2 1543.0,682.5 1536.5,656.4 1532.0,647.9 1528.8,637.1 1523.3,640.3 1516.8,624.0 1511.4,613.2 1498.4,604.5 1495.1,593.6 1491.9,569.8 1490.8,541.6 1486.4,541.6 1484.3,567.6 1481.0,545.9 1475.6,538.3 1472.3,526.4 1468.0,541.6 1463.6,567.6 1459.3,589.3 1455.0,594.7 1450.6,587.1 1444.1,567.6 1437.6,558.9 1431.1,541.6 1423.5,532.9 1420.2,517.7 1418.1,525.3 1411.6,526.4 1404.0,530.7 1398.5,517.7 1395.3,489.5 1385.5,491.6 1381.2,522.0 1377.9,540.5 1373.6,541.6 1367.1,532.9 1361.6,538.3 1357.3,551.3 1347.5,554.6 1342.1,560.0 1331.2,563.3 1325.8,578.5 1322.6,580.6 1311.7,564.3 1305.2,562.2 1297.8,569.8 1293.5,570.9 1285.9,565.4 1277.2,557.8 1268.5,558.9 1257.7,574.1 1247.9,594.7 1242.5,595.8 1233.8,582.8 1227.3,563.3 1220.8,552.4 1215.4,553.5 1209.9,564.3 1205.6,565.4 1200.2,556.7 1194.7,556.7 1188.2,566.5 1176.3,563.3 1168.7,539.4 1162.2,527.4 1156.8,528.5 1148.1,539.4 1139.4,537.2 1132.9,531.8 1128.5,535.0 1124.2,550.2 1118.8,551.3 1107.9,539.4 1090.5,539.4 1077.5,537.2 1071.0,531.8 1062.3,534.0 1055.8,540.5 1049.3,538.3 1046.0,545.9 1041.7,545.9 1037.4,550.2 1033.0,567.6 1028.7,565.4 1025.4,573.0 1021.1,571.9 1015.7,550.2 1010.2,562.2 1004.8,562.2 998.3,551.3 992.9,561.1 984.2,557.8 973.3,552.4 963.6,555.7 958.1,551.3 947.3,556.7 940.8,550.2 937.5,562.2 931.0,564.3 926.7,571.9 915.8,567.6 911.5,545.9 906.0,545.9 902.8,571.9 900.6,558.9 896.5,558.6 893.3,584.7 887.8,602.0 883.5,604.2 878.1,590.1 867.2,584.7 861.8,593.3 859.6,578.1 856.4,557.5 852.0,558.6 846.6,582.5 842.3,606.4 839.0,606.4 830.3,586.8 819.5,577.1 814.0,565.1 807.5,554.3 801.0,554.3 795.6,565.1 785.8,571.6 779.3,593.3 772.8,595.5 769.5,602.0 765.2,603.1 758.7,584.7 744.6,587.9 738.1,576.0 732.6,582.5 725.0,583.6 719.6,590.1 710.9,582.5 703.3,585.7 697.9,597.7 689.2,594.4 684.9,595.5 679.5,607.4 662.1,602.0 656.7,624.8 650.2,636.7 645.8,654.1 641.5,651.9 635.0,630.2 630.6,625.9 625.2,633.5 619.8,632.4 613.3,642.2 598.1,638.9 594.8,651.9 591.6,669.3 578.5,670.4 569.8,676.9 563.3,691.0 559.0,705.1 553.6,707.3 548.1,701.9 539.5,682.3 530.8,651.9 523.2,623.7 516.7,612.9 510.2,602.0 509.1,592.3 502.6,597.7 493.9,598.8 489.5,606.4 481.9,606.4 476.5,630.2 467.7,658.6 456.8,681.4 450.3,682.5 443.8,665.0 437.3,672.7 430.8,673.8 425.4,665.0 420.0,650.0 415.6,646.0 411.2,654.3 404.7,680.3 398.2,704.2 389.5,707.4 385.2,697.7 378.7,672.7 371.0,673.8 365.7,664.0 361.3,669.5 354.8,686.8 348.3,721.5 341.8,745.4 328.8,754.5 323.3,752.0 318.0,739.0 312.5,731.3 307.0,736.7 301.6,752.0 294.0,782.0 287.5,799.7 281.0,806.0 268.0,819.0 261.5,831.0 242.0,841.0 233.3,855.0 99.5,855.0" fill="#7d6b4f" clip-path="url(#bg)"/><polygon points="222.8,839.9 226.0,839.9 230.0,839.9 233.3,839.9 236.0,835.4 239.8,829.0 243.0,820.6 245.2,814.9 245.2,839.4 242.0,841.0 238.0,847.4 233.3,855.0 228.0,855.0 222.8,855.0" fill="#7d6b4f"/><rect x="100" y="856" width="108" height="5.3" fill="#7d6b4f"/><rect x="1905" y="856" width="39" height="5.3" fill="#7d6b4f"/><line x1="103" y1="207" x2="103" y2="856" stroke="#545059" stroke-width="1.9" stroke-dasharray="8 6"/><line x1="166.8" y1="207" x2="166.8" y2="856" stroke="#545059" stroke-width="1.9" stroke-dasharray="8 6"/><line x1="1029" y1="207" x2="1029" y2="856" stroke="#545059" stroke-width="1.9" stroke-dasharray="8 6"/><line x1="1892.7" y1="207" x2="1892.7" y2="856" stroke="#545059" stroke-width="1.9" stroke-dasharray="8 6"/><line x1="1954.8" y1="207" x2="1954.8" y2="856" stroke="#545059" stroke-width="1.9" stroke-dasharray="8 6"/><line x1="1029" y1="207" x2="1029" y2="856" stroke="#69686e" stroke-width="1.9" stroke-dasharray="8 6" clip-path="url(#btw)"/><polyline points="99.5,855.0 233.3,855.0 242.0,841.0 261.5,831.0 268.0,819.0 281.0,806.0 287.5,799.7 294.0,782.0 301.6,752.0 307.0,736.7 312.5,731.3 318.0,739.0 323.3,752.0 328.8,754.5 341.8,745.4 348.3,721.5 354.8,686.8 361.3,669.5 365.7,664.0 371.0,673.8 378.7,672.7 385.2,697.7 389.5,707.4 398.2,704.2 404.7,680.3 411.2,654.3 415.6,646.0 420.0,650.0 425.4,665.0 430.8,673.8 437.3,672.7 443.8,665.0 450.3,682.5 456.8,681.4 467.7,658.6 476.5,630.2 481.9,606.4 489.5,606.4 493.9,598.8 502.6,597.7 509.1,592.3 510.2,602.0 516.7,612.9 523.2,623.7 530.8,651.9 539.5,682.3 548.1,701.9 553.6,707.3 559.0,705.1 563.3,691.0 569.8,676.9 578.5,670.4 591.6,669.3 594.8,651.9 598.1,638.9 613.3,642.2 619.8,632.4 625.2,633.5 630.6,625.9 635.0,630.2 641.5,651.9 645.8,654.1 650.2,636.7 656.7,624.8 662.1,602.0 679.5,607.4 684.9,595.5 689.2,594.4 697.9,597.7 703.3,585.7 710.9,582.5 719.6,590.1 725.0,583.6 732.6,582.5 738.1,576.0 744.6,587.9 758.7,584.7 765.2,603.1 769.5,602.0 772.8,595.5 779.3,593.3 785.8,571.6 795.6,565.1 801.0,554.3 807.5,554.3 814.0,565.1 819.5,577.1 830.3,586.8 839.0,606.4 842.3,606.4 846.6,582.5 852.0,558.6 856.4,557.5 859.6,578.1 861.8,593.3 867.2,584.7 878.1,590.1 883.5,604.2 887.8,602.0 893.3,584.7 896.5,558.6 900.6,558.9 902.8,571.9 906.0,545.9 911.5,545.9 915.8,567.6 926.7,571.9 931.0,564.3 937.5,562.2 940.8,550.2 947.3,556.7 958.1,551.3 963.6,555.7 973.3,552.4 984.2,557.8 992.9,561.1 998.3,551.3 1004.8,562.2 1010.2,562.2 1015.7,550.2 1021.1,571.9 1025.4,573.0 1028.7,565.4 1033.0,567.6 1037.4,550.2 1041.7,545.9 1046.0,545.9 1049.3,538.3 1055.8,540.5 1062.3,534.0 1071.0,531.8 1077.5,537.2 1090.5,539.4 1107.9,539.4 1118.8,551.3 1124.2,550.2 1128.5,535.0 1132.9,531.8 1139.4,537.2 1148.1,539.4 1156.8,528.5 1162.2,527.4 1168.7,539.4 1176.3,563.3 1188.2,566.5 1194.7,556.7 1200.2,556.7 1205.6,565.4 1209.9,564.3 1215.4,553.5 1220.8,552.4 1227.3,563.3 1233.8,582.8 1242.5,595.8 1247.9,594.7 1257.7,574.1 1268.5,558.9 1277.2,557.8 1285.9,565.4 1293.5,570.9 1297.8,569.8 1305.2,562.2 1311.7,564.3 1322.6,580.6 1325.8,578.5 1331.2,563.3 1342.1,560.0 1347.5,554.6 1357.3,551.3 1361.6,538.3 1367.1,532.9 1373.6,541.6 1377.9,540.5 1381.2,522.0 1385.5,491.6 1395.3,489.5 1398.5,517.7 1404.0,530.7 1411.6,526.4 1418.1,525.3 1420.2,517.7 1423.5,532.9 1431.1,541.6 1437.6,558.9 1444.1,567.6 1450.6,587.1 1455.0,594.7 1459.3,589.3 1463.6,567.6 1468.0,541.6 1472.3,526.4 1475.6,538.3 1481.0,545.9 1484.3,567.6 1486.4,541.6 1490.8,541.6 1491.9,569.8 1495.1,593.6 1498.4,604.5 1511.4,613.2 1516.8,624.0 1523.3,640.3 1528.8,637.1 1532.0,647.9 1536.5,656.4 1543.0,682.5 1551.7,691.2 1558.2,699.8 1564.7,717.2 1570.2,717.2 1576.7,710.7 1585.4,711.8 1590.8,700.9 1597.3,706.4 1603.8,730.2 1613.6,725.9 1617.9,734.6 1623.3,730.2 1629.8,717.2 1634.2,714.0 1642.9,721.6 1648.3,728.1 1653.7,721.6 1660.2,702.0 1668.9,690.1 1672.2,684.7 1677.6,702.0 1686.3,730.2 1692.8,741.1 1698.2,754.1 1702.0,757.0 1706.0,750.0 1712.3,725.9 1716.7,708.5 1721.0,686.8 1724.3,676.0 1726.4,691.2 1733.0,686.8 1739.5,673.8 1744.9,669.5 1748.5,662.0 1749.2,650.0 1749.2,534.0 1750.9,534.0 1750.9,598.0 1753.0,599.0 1756.8,602.0 1760.1,615.0 1762.0,626.0 1768.0,633.0 1770.5,640.0 1772.5,660.0 1775.3,682.5 1778.5,702.0 1779.6,730.2 1781.0,750.0 1782.9,765.0 1785.0,784.5 1788.3,799.7 1793.7,814.9 1798.1,821.4 1803.5,819.2 1807.8,809.5 1812.2,814.9 1819.8,823.6 1826.3,821.4 1830.6,817.1 1833.9,825.7 1838.2,838.8 1842.6,847.4 1848.0,847.4 1853.4,837.7 1862.1,835.5 1868.6,837.7 1873.0,844.2 1886.0,846.4 1892.5,846.4 1895.8,842.0 1900.1,843.1 1903.3,855.0 1957.0,855.0" fill="none" stroke="#ac9edc" stroke-width="4.5" stroke-linejoin="round" stroke-linecap="butt"/><polyline points="99.5,855.0 207.2,855.0" fill="none" stroke="#82bfaf" stroke-width="4.4" stroke-linejoin="round" stroke-dasharray="16 4"/><polyline points="207.2,855.0 210.5,838.8 214.8,828.0 221.3,832.3 222.8,839.9 233.3,839.9 239.8,829.0 245.2,814.9 247.4,806.2 253.9,803.0 259.3,791.0 265.8,783.4 270.2,778.0 274.5,766.0 278.4,763.9 279.3,743.3 289.7,741.1 293.0,725.9 296.2,708.5 299.5,693.3 301.6,671.6 304.9,658.6 312.5,656.4 314.7,641.2 317.9,634.7 325.5,642.3 334.2,653.2 339.6,654.3 346.1,649.9 347.2,634.7 351.6,623.9 353.7,604.3 355.0,588.8 357.1,556.2 360.4,523.6 364.7,499.8 368.0,488.9 372.3,487.8 376.7,499.8 382.1,506.3 383.2,523.6 387.5,538.8 391.9,558.4 394.0,573.6 399.5,580.1 403.8,562.7 412.5,556.2 416.8,538.8 422.3,519.3 423.3,502.0 425.5,488.9 428.8,499.8 433.1,506.3 436.4,521.5 439.6,539.9 446.1,532.3 453.7,522.6 457.0,541.0 460.2,555.1 466.7,548.6 475.4,542.1 478.7,521.5 479.8,491.1 481.9,469.4 484.1,454.2 487.4,434.7 492.8,428.1 501.5,426.0 503.6,404.3 508.0,389.1 509.1,371.7 509.7,393.4 511.9,412.9 513.4,430.3 518.8,443.3 524.3,458.5 527.5,475.9 530.8,497.6 534.0,508.5 539.5,500.9 544.9,515.0 550.3,530.2 556.8,543.2 562.3,563.8 568.8,549.7 580.7,537.8 593.7,554.0 599.2,545.4 601.3,508.5 605.7,501.9 616.5,516.1 623.0,508.5 633.9,494.3 640.4,497.6 643.7,515.0 648.0,534.5 655.6,521.5 663.2,508.5 666.4,484.6 673.0,470.5 678.4,445.5 686.0,436.8 688.2,422.7 693.6,432.5 699.0,423.8 707.7,416.2 712.0,406.4 718.5,424.9 725.0,439.0 731.6,454.2 735.9,471.6 741.3,474.8 743.3,460.6 748.7,438.9 751.9,451.9 754.1,467.1 759.5,466.0 761.7,447.6 766.0,458.5 769.3,471.5 772.6,474.7 779.1,471.5 782.3,447.6 784.5,425.9 786.7,408.5 791.0,399.8 795.4,389.0 800.8,380.3 805.1,367.3 807.3,346.7 812.7,358.6 814.9,380.3 816.4,402.0 817.7,425.9 821.4,447.6 826.8,449.8 828.6,432.4 830.7,412.9 837.7,406.4 844.2,404.2 844.6,382.5 846.4,362.9 848.5,345.6 852.9,328.2 858.3,327.1 858.3,354.3 859.0,376.0 862.6,393.3 863.7,412.9 865.9,422.6 873.5,418.3 875.7,404.2 878.9,397.7 880.0,371.6 881.1,395.5 884.3,415.0 889.8,406.4 892.0,371.6 895.2,360.8 898.5,346.7 901.7,367.3 902.8,420.5 903.9,397.7 906.0,365.1 907.1,334.7 909.3,322.8 913.7,336.9 915.8,358.6 919.1,371.6 922.3,384.7 927.8,393.3 935.4,396.6 940.8,383.6 945.1,393.3 948.4,400.9 961.4,400.9 964.7,417.2 970.1,406.4 975.5,397.7 985.3,402.0 991.8,389.0 997.2,362.9 1000.5,386.8 1003.7,399.8 1012.4,412.9 1015.7,365.1 1018.9,380.3 1023.3,393.3 1030.9,405.3 1035.2,410.7 1043.9,405.3 1050.4,411.8 1059.1,420.5 1067.8,414.0 1076.4,414.0 1081.9,430.2 1093.8,424.8 1104.7,430.2 1111.2,443.3 1126.4,436.7 1132.9,431.3 1137.2,435.7 1145.9,431.3 1158.9,429.2 1172.0,436.3 1180.6,452.6 1192.6,459.1 1205.6,454.7 1209.9,464.5 1218.6,452.6 1231.6,450.4 1240.3,458.0 1249.0,465.6 1262.0,466.7 1270.7,460.2 1277.2,453.6 1290.2,451.5 1300.9,452.6 1313.9,456.9 1329.1,464.5 1342.1,460.2 1352.9,463.4 1359.5,469.9 1368.1,463.4 1374.7,461.2 1380.1,472.1 1387.7,466.7 1392.0,475.4 1400.7,479.7 1407.2,485.1 1413.7,472.1 1418.1,467.8 1428.9,472.1 1439.8,467.8 1450.6,475.4 1461.5,480.8 1465.8,493.8 1470.2,497.1 1481.0,490.5 1485.4,500.3 1494.0,505.7 1497.3,524.2 1501.6,541.6 1509.2,544.8 1513.6,551.3 1525.5,553.5 1529.9,565.4 1534.2,578.5 1539.6,595.8 1547.2,604.5 1551.6,621.9 1553.7,632.7 1562.4,643.6 1566.8,656.6 1572.2,666.4 1577.6,665.3 1581.9,650.1 1591.7,641.4 1596.0,626.2 1604.7,624.0 1609.1,639.2 1613.4,656.6 1621.0,654.4 1625.4,665.3 1628.6,645.7 1633.0,637.1 1639.5,645.7 1648.2,658.8 1654.7,666.4 1663.4,672.9 1673.1,672.9 1678.5,654.4 1684.0,641.4 1687.4,620.6 1691.7,630.4 1695.0,647.8 1699.3,663.0 1702.6,680.3 1703.7,695.5 1708.0,715.0 1714.5,710.7 1717.8,693.3 1721.0,676.0 1725.4,665.1 1728.6,641.2 1730.8,623.9 1734.0,614.1 1738.4,630.4 1741.6,645.6 1747.1,636.9 1753.6,628.2 1756.8,619.5 1763.3,626.0 1768.8,628.2 1770.9,643.4 1774.2,669.5 1777.4,686.8 1779.6,702.0 1789.4,704.2 1791.6,721.6 1793.7,732.4 1796.5,750.0 1799.2,765.0 1801.3,784.5 1805.7,799.7 1810.0,802.9 1812.2,788.8 1818.7,795.4 1825.2,801.9 1830.6,808.4 1836.1,819.2 1841.5,834.4 1846.9,843.1 1853.4,837.7 1862.1,838.8 1868.6,845.3 1873.0,852.9 1886.0,852.9 1888.2,834.4 1892.5,825.7 1894.7,806.2 1899.0,814.9 1903.3,819.2 1904.4,838.8 1905.5,855.0" fill="none" stroke="#82bfaf" stroke-width="4.4" stroke-linejoin="round" stroke-dasharray="12.4 3.8"/><polyline points="1943.5,855.0 1945.7,843.1 1947.8,834.4 1954.3,829.0 1956.0,834.4 1957.0,853.0" fill="none" stroke="#82bfaf" stroke-width="4.4" stroke-linejoin="round" stroke-dasharray="12.4 3.8"/><rect x="96.5" y="228.5" width="13.5" height="13.5" fill="#2a2180" stroke="#5c52b4" stroke-width="1.2"/><polygon points="166.8,221.7 169.9,230.6 179.3,230.8 171.7,236.4 174.5,245.4 166.8,240.0 159.1,245.4 161.9,236.4 154.3,230.8 163.7,230.6" fill="#d96b32" stroke="#c9a090" stroke-width="0.8"/><polygon points="1029,221.5 1036.5,234.5 1029,247.5 1021.5,234.5" fill="#f7eeaa" stroke="#fff8e0" stroke-width="1"/><circle cx="1892.7" cy="234.9" r="7.6" fill="#dd6a30" stroke="#e89a70" stroke-width="0.8"/><rect x="1948.2" y="228.5" width="13.5" height="13.5" fill="#9c3775" stroke="#c080a8" stroke-width="1.2"/><line x1="133" y1="955" x2="133" y2="1059" stroke="#4f4a54" stroke-width="1.8" stroke-dasharray="6 4"/><line x1="194.5" y1="955" x2="194.5" y2="1059" stroke="#4f4a54" stroke-width="1.8" stroke-dasharray="6 4"/><line x1="1029" y1="955" x2="1029" y2="1059" stroke="#4f4a54" stroke-width="1.8" stroke-dasharray="6 4"/><line x1="1864.5" y1="955" x2="1864.5" y2="1059" stroke="#4f4a54" stroke-width="1.8" stroke-dasharray="6 4"/><line x1="1925" y1="955" x2="1925" y2="1059" stroke="#4f4a54" stroke-width="1.8" stroke-dasharray="6 4"/><polygon points="130.1,1059.0 130.1,1059.0 134.0,1059.0 137.8,1059.0 141.7,1059.0 145.6,1059.0 149.4,1059.0 153.3,1059.0 157.2,1059.0 161.1,1059.0 164.9,1059.0 168.8,1059.0 172.7,1059.0 176.5,1059.0 180.4,1059.0 184.3,1059.0 188.2,1059.0 192.0,1059.0 195.9,1059.0 199.8,1059.0 203.6,1059.0 207.5,1059.0 211.4,1059.0 215.2,1059.0 219.1,1059.0 223.0,1059.0 226.9,1059.0 230.7,1059.0 234.6,1058.4 238.5,1057.7 242.3,1057.1 246.2,1057.3 250.1,1057.6 253.9,1057.8 257.8,1057.6 261.7,1057.0 265.6,1056.0 269.4,1054.9 273.3,1054.0 277.2,1053.3 281.0,1052.7 284.9,1052.0 288.8,1051.1 292.7,1050.2 296.5,1049.2 300.4,1047.9 304.3,1046.8 308.1,1045.8 312.0,1045.0 315.9,1043.3 319.7,1040.8 323.6,1037.9 327.5,1035.5 331.4,1033.9 335.2,1033.0 339.1,1032.7 343.0,1032.8 346.8,1033.5 350.7,1034.1 354.6,1034.3 358.5,1034.4 362.3,1034.0 366.2,1032.7 370.1,1030.6 373.9,1027.1 377.8,1023.0 381.7,1018.9 385.5,1016.3 389.4,1015.2 393.3,1015.3 397.2,1015.9 401.0,1017.5 404.9,1019.4 408.8,1021.7 412.6,1023.3 416.5,1024.1 420.4,1023.6 424.2,1022.1 428.1,1020.4 432.0,1018.9 435.9,1017.5 439.7,1016.2 443.6,1015.6 447.5,1015.6 451.3,1016.5 455.2,1017.7 459.1,1018.2 463.0,1018.6 466.8,1018.6 470.7,1019.0 474.6,1019.6 478.4,1019.9 482.3,1019.6 486.2,1018.5 490.0,1017.3 493.9,1014.6 497.8,1011.1 501.7,1007.7 505.5,1005.7 509.4,1004.8 513.3,1004.4 517.1,1003.5 521.0,1002.4 524.9,1002.2 528.7,1003.5 532.6,1005.7 536.5,1007.5 540.4,1009.4 544.2,1011.9 548.1,1014.3 552.0,1016.0 555.8,1017.3 559.7,1018.6 563.6,1020.1 567.5,1021.2 571.3,1022.0 575.2,1022.3 579.1,1021.9 582.9,1021.0 586.8,1020.0 590.7,1019.4 594.5,1019.1 598.4,1019.2 602.3,1019.5 606.2,1019.1 610.0,1017.9 613.9,1015.9 617.8,1014.5 621.6,1014.0 625.5,1014.2 629.4,1014.2 633.2,1013.9 637.1,1013.3 641.0,1012.8 644.9,1012.5 648.7,1012.8 652.6,1014.0 656.5,1015.4 660.3,1015.8 664.2,1015.2 668.1,1013.7 672.0,1012.2 675.8,1010.6 679.7,1009.3 683.6,1008.2 687.4,1007.3 691.3,1006.2 695.2,1005.0 699.0,1004.3 702.9,1004.0 706.8,1004.0 710.7,1003.4 714.5,1002.7 718.4,1002.0 722.3,1002.0 726.1,1002.5 730.0,1003.4 733.9,1004.0 737.8,1004.6 741.6,1005.3 745.5,1006.0 749.4,1006.2 753.2,1005.6 757.1,1005.2 761.0,1005.4 764.8,1006.0 768.7,1006.3 772.6,1006.8 776.5,1007.3 780.3,1007.7 784.2,1007.4 788.1,1005.7 791.9,1003.3 795.8,1000.8 799.7,999.4 803.5,998.3 807.4,997.3 811.3,996.0 815.2,995.5 819.0,996.5 822.9,999.6 826.8,1002.5 830.6,1004.1 834.5,1003.7 838.4,1003.1 842.3,1002.8 846.1,1002.8 850.0,1000.6 853.9,997.3 857.7,994.2 861.6,995.2 865.5,998.2 869.3,1001.5 873.2,1002.6 877.1,1002.3 881.0,1001.3 884.8,1001.6 888.7,1002.0 892.6,1001.9 896.4,999.3 900.3,996.8 904.2,996.7 908.0,995.5 911.9,994.6 915.8,993.7 919.7,995.6 923.5,997.7 927.4,998.6 931.3,999.0 935.1,999.0 939.0,998.3 942.9,998.0 946.8,997.9 950.6,998.4 954.5,998.6 958.4,998.5 962.2,998.9 966.1,999.2 970.0,999.3 973.8,998.8 977.7,998.6 981.6,998.6 985.5,998.7 989.3,998.6 993.2,997.6 997.1,997.1 1000.9,997.5 1004.8,998.7 1008.7,999.5 1012.5,998.4 1016.4,997.9 1020.3,997.8 1024.2,999.2 1028.0,999.8 1031.9,999.7 1035.8,999.4 1039.6,998.8 1043.5,998.4 1047.4,998.3 1051.3,998.5 1055.1,998.6 1059.0,998.6 1062.9,998.3 1066.7,998.0 1070.6,998.0 1074.5,998.4 1078.3,999.0 1082.2,999.4 1086.1,999.5 1090.0,999.4 1093.8,999.5 1097.7,999.6 1101.6,999.9 1105.4,1000.4 1109.3,1000.9 1113.2,1001.3 1117.0,1001.3 1120.9,1000.9 1124.8,1000.2 1128.7,999.7 1132.5,999.7 1136.4,999.8 1140.3,999.9 1144.1,999.7 1148.0,999.4 1151.9,999.0 1155.8,999.0 1159.6,999.3 1163.5,1000.1 1167.4,1001.3 1171.2,1002.4 1175.1,1003.3 1179.0,1003.8 1182.8,1003.9 1186.7,1003.7 1190.6,1003.5 1194.5,1003.4 1198.3,1003.7 1202.2,1003.9 1206.1,1003.7 1209.9,1003.2 1213.8,1002.8 1217.7,1003.0 1221.5,1003.6 1225.4,1004.5 1229.3,1005.4 1233.2,1006.1 1237.0,1006.6 1240.9,1006.7 1244.8,1006.3 1248.6,1005.8 1252.5,1005.2 1256.4,1004.6 1260.3,1004.1 1264.1,1003.6 1268.0,1003.4 1271.9,1003.3 1275.7,1003.5 1279.6,1003.7 1283.5,1003.9 1287.3,1003.9 1291.2,1003.8 1295.1,1003.7 1299.0,1003.7 1302.8,1004.0 1306.7,1004.5 1310.6,1005.1 1314.4,1005.3 1318.3,1005.0 1322.2,1004.5 1326.1,1004.1 1329.9,1003.9 1333.8,1003.7 1337.7,1003.6 1341.5,1003.6 1345.4,1003.5 1349.3,1003.1 1353.1,1002.5 1357.0,1002.2 1360.9,1002.3 1364.8,1002.4 1368.6,1001.6 1372.5,1000.3 1376.4,999.4 1380.2,999.5 1384.1,1000.6 1388.0,1001.8 1391.8,1002.9 1395.7,1002.9 1399.6,1002.4 1403.5,1001.8 1407.3,1001.8 1411.2,1002.2 1415.1,1003.0 1418.9,1003.5 1422.8,1004.0 1426.7,1004.7 1430.6,1005.4 1434.4,1006.4 1438.3,1007.3 1442.2,1007.6 1446.0,1007.3 1449.9,1006.4 1453.8,1005.2 1457.6,1004.7 1461.5,1004.6 1465.4,1005.7 1469.3,1006.0 1473.1,1007.0 1477.0,1008.4 1480.9,1011.0 1484.7,1013.0 1488.6,1014.1 1492.5,1014.7 1496.3,1015.3 1500.2,1016.1 1504.1,1016.9 1508.0,1017.5 1511.8,1018.5 1515.7,1019.7 1519.6,1021.6 1523.4,1023.3 1527.3,1024.8 1531.2,1026.1 1535.1,1027.4 1538.9,1028.7 1542.8,1030.0 1546.7,1031.1 1550.5,1032.1 1554.4,1032.5 1558.3,1032.2 1562.1,1031.7 1566.0,1031.0 1569.9,1030.3 1573.8,1029.5 1577.6,1029.3 1581.5,1029.6 1585.4,1030.5 1589.2,1031.4 1593.1,1032.3 1597.0,1032.9 1600.8,1033.3 1604.7,1032.8 1608.6,1031.9 1612.5,1031.0 1616.3,1030.9 1620.2,1031.5 1624.1,1032.3 1627.9,1032.8 1631.8,1033.0 1635.7,1032.7 1639.6,1032.2 1643.4,1031.7 1647.3,1031.3 1651.2,1031.1 1655.0,1031.0 1658.9,1031.1 1662.8,1031.0 1666.6,1031.3 1670.5,1032.3 1674.4,1034.0 1678.3,1036.1 1682.1,1037.7 1686.0,1038.1 1689.9,1037.2 1693.7,1034.9 1697.6,1032.4 1701.5,1030.3 1705.4,1028.6 1709.2,1027.4 1713.1,1026.8 1717.0,1026.9 1720.8,1026.8 1724.7,1024.6 1728.6,1022.2 1732.4,1020.6 1736.3,1021.3 1740.2,1022.3 1744.1,1024.1 1747.9,1027.1 1751.8,1031.8 1755.7,1036.4 1759.5,1040.0 1763.4,1042.6 1767.3,1044.9 1771.1,1047.3 1775.0,1049.4 1778.9,1050.6 1782.8,1050.9 1786.6,1050.9 1790.5,1051.2 1794.4,1051.7 1798.2,1052.0 1802.1,1052.3 1806.0,1053.1 1809.9,1054.3 1813.7,1055.8 1817.6,1056.8 1821.5,1057.0 1825.3,1056.7 1829.2,1056.3 1833.1,1056.2 1836.9,1056.4 1840.8,1056.9 1844.7,1057.5 1848.6,1057.9 1852.4,1058.1 1856.3,1057.7 1860.2,1057.0 1864.0,1055.7 1867.9,1055.1 1871.8,1055.4 1875.6,1057.0 1879.5,1058.4 1883.4,1059.0 1887.3,1059.0 1891.1,1059.0 1895.0,1059.0 1898.9,1059.0 1902.7,1059.0 1906.6,1059.0 1910.5,1059.0 1914.4,1058.4 1918.2,1057.7 1922.1,1057.3 1926.0,1057.2 1926.0,1059.0" fill="#4b485b"/><line x1="1029" y1="955" x2="1029" y2="1059" stroke="#6a6676" stroke-width="2" stroke-dasharray="6 4"/></svg>
<div class="abs" style="left:32.9px;top:926px;width:1988.4px;height:161.8px;border:2px solid #39333d;border-radius:16px"></div>
<div class="abs mono" id="t_dawn" style="left:86.5px;top:894px;font-size:22px;color:#c9c1dc;transform-origin:0 16.86px;transform:scaleY(1.08)">Dawn 6:19 AM</div>
<div class="abs mono" id="t_dusk" style="left:1865.7px;top:894px;font-size:22px;color:#c9c1dc;transform-origin:0 16.86px;transform:scaleY(1.08)">Dusk 7:42 PM</div>
<svg class="abs" id="i_dawn" style="left:34px;top:886px" width="44" height="30" viewBox="0 0 44 30" stroke="#c9c1dc" fill="none" stroke-width="1.4">
<path d="M2.9 20.3h7M6.4 17v6.6"/>
<g transform="translate(19.6,16)"><path d="M-6.3 0h12.6M0 -6.3v12.6M-4.4 -4.4l8.8 8.8M-4.4 4.4l8.8 -8.8" stroke-width="1.3"/><circle r="2.3" fill="#c9c1dc" stroke="none"/></g>
<path d="M33.2 13.3 L34.7 16.8 L38.2 18.3 L34.7 19.8 L33.2 23.3 L31.7 19.8 L28.2 18.3 L31.7 16.8 Z" stroke-width="1.2"/>
</svg>
<svg class="abs" id="i_dusk" style="left:1798px;top:884px" width="56" height="32" viewBox="0 0 56 32" stroke="#c9c1dc" fill="none" stroke-width="1.4">
<polygon points="7.3,13.4 8.4,16.5 11.7,16.6 9.1,18.6 10,21.8 7.3,19.9 4.6,21.8 5.5,18.6 2.9,16.6 6.2,16.5" fill="#c9c1dc" stroke="none"/>
<g transform="translate(27.5,15.8)"><circle r="8.2"/><path d="M0 -9.5V-13.8M0 9.5V13.8M-9.5 0H-13.5M9.5 0H13.5M-6.7 -6.7L-10 -10M6.7 -6.7L10 -10M-6.7 6.7L-10 10M6.7 6.7L10 10"/></g>
<circle cx="48" cy="25.6" r="1.35" fill="#c9c1dc" stroke="none"/>
</svg>
<div class="abs" id="tip" style="left:1699px;top:734px;width:356px;height:29px;background:#fff"></div>
<div class="abs" id="t_tip" style="left:1702.2px;top:737.9px;font-size:20px;color:#000;letter-spacing:-0.03px">Trying to find something in the bedroom</div>
<div class="abs" id="t_date" style="left:1764.5px;top:1139.4px;font-size:26.5px;font-weight:bold;color:#9888bf;transform-origin:0 0;transform:scaleX(0.977)">Mar.</div>
<div class="abs" id="t_d2" style="left:1821.3px;top:1139.4px;font-size:26.5px;font-weight:bold;color:#9888bf;transform-origin:0 0;transform:scaleX(0.969)">27</div>
<div class="abs" id="t_d3" style="left:1857.2px;top:1139.4px;font-size:26.5px;font-weight:bold;color:#9888bf;transform-origin:0 0;transform:scaleX(1.045)">2026</div>
<svg class="abs" style="left:1924px;top:1148px" width="18" height="11" viewBox="0 0 18 11"><polyline points="2,1.7 9,8 16,1.7" fill="none" stroke="#5d5763" stroke-width="2"/></svg>
<div class="abs" id="t_fri" style="left:1960.5px;top:1138.5px;font-size:27.5px;font-weight:bold;color:#7caeb2;transform-origin:0 0;transform:scaleX(0.9636)">Friday</div>
<div class="abs serif" id="t_ny" style="left:1838px;top:1177.3px;font-size:24px;font-style:italic;color:#6f8486;letter-spacing:0.37px">New York, New York</div>
</body></html>
